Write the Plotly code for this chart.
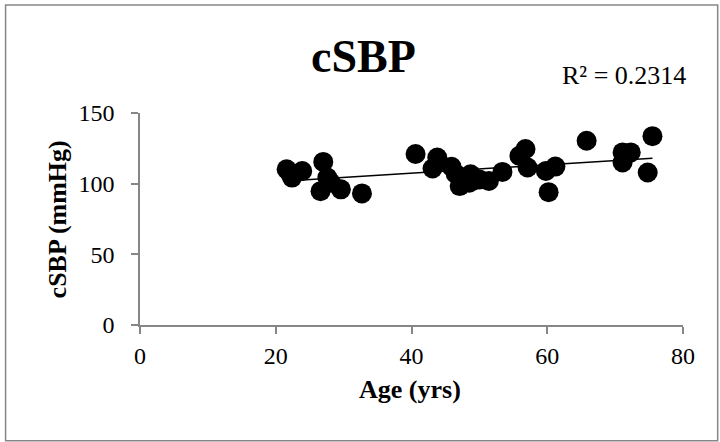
import numpy as np
import plotly.graph_objects as go

age = [21.6, 22.0, 22.4, 23.9, 26.6, 27.0, 27.6, 28.1, 29.6, 32.7,
       40.6, 43.1, 43.8, 45.9, 46.5, 47.1, 48.5, 48.7, 49.0, 50.0,
       51.4, 53.4, 55.9, 56.8, 57.1, 59.8, 60.2, 61.2, 65.8, 71.1,
       71.1, 72.3, 74.8, 75.5]
csbp = [110.2, 108.0, 104.3, 109.0, 94.7, 115.4, 104.3, 100.7, 96.0, 93.1,
        121.0, 110.7, 118.5, 112.0, 107.0, 98.3, 100.7, 106.6, 102.0, 103.0,
        101.9, 108.3, 119.7, 124.5, 111.4, 109.0, 94.0, 112.1, 130.4, 122.1,
        115.0, 122.1, 107.9, 133.6]

title_text = "cSBP"
r2_text = "R² = 0.2314"
x_title = "Age (yrs)"
y_title = "cSBP (mmHg)"
x_ticks = [0, 20, 40, 60, 80]
y_ticks = [0, 50, 100, 150]

slope, intercept = np.polyfit(age, csbp, 1)
tx = [min(age), max(age)]
ty = [slope * v + intercept for v in tx]

FONT = "Liberation Serif"
AX = "#868686"

fig = go.Figure()
fig.add_trace(go.Scatter(x=tx, y=ty, mode="lines",
                         line=dict(color="black", width=1.5), showlegend=False))
fig.add_trace(go.Scatter(x=age, y=csbp, mode="markers",
                         marker=dict(color="black", size=20, line=dict(width=0)),
                         showlegend=False))

L, R, T, B = 140, 36.7, 113.3, 117
W, H = 720, 442
pw, ph = W - L - R, H - T - B

def px(x):
    return (x - L) / pw

def py(y):
    return (H - B - y) / ph

fig.update_layout(
    width=W, height=H,
    margin=dict(l=L, r=R, t=T, b=B),
    paper_bgcolor="white", plot_bgcolor="white",
    font=dict(family=FONT, color="black"),
    xaxis=dict(range=[0, 80], tickvals=x_ticks, showgrid=False, zeroline=False,
               showline=True, linecolor=AX, linewidth=1.5,
               ticks="outside", ticklen=7, tickcolor=AX, tickwidth=1.5,
               tickfont=dict(family=FONT, size=24, color="black"),
               ticklabelstandoff=1),
    yaxis=dict(range=[0, 150], tickvals=y_ticks, showgrid=False, zeroline=False,
               showline=True, linecolor=AX, linewidth=1.5,
               ticks="outside", ticklen=7, tickcolor=AX, tickwidth=1.5,
               tickfont=dict(family=FONT, size=24, color="black"),
               ticklabelstandoff=12),
    shapes=[dict(type="rect", xref="paper", yref="paper",
                 x0=px(5.5), x1=px(718), y0=py(440.5), y1=py(5.5),
                 line=dict(color=AX, width=1.5), layer="below")],
    annotations=[
        dict(text="<b>" + title_text + "</b>", xref="paper", yref="paper",
             x=px(364), y=py(57), xanchor="center", yanchor="middle",
             showarrow=False, font=dict(family=FONT, size=46)),
        dict(text=r2_text, xref="paper", yref="paper",
             x=px(688), y=py(76), xanchor="right", yanchor="middle",
             showarrow=False, font=dict(family=FONT, size=26)),
        dict(text="<b>" + x_title + "</b>", xref="paper", yref="paper",
             x=px(410), y=py(389), xanchor="center", yanchor="middle",
             showarrow=False, font=dict(family=FONT, size=26)),
        dict(text="<b>" + y_title + "</b>", xref="paper", yref="paper",
             x=px(57.5), y=py(220), xanchor="center", yanchor="middle",
             textangle=-90, showarrow=False, font=dict(family=FONT, size=26)),
    ],
)

fig.write_html("out.html")
